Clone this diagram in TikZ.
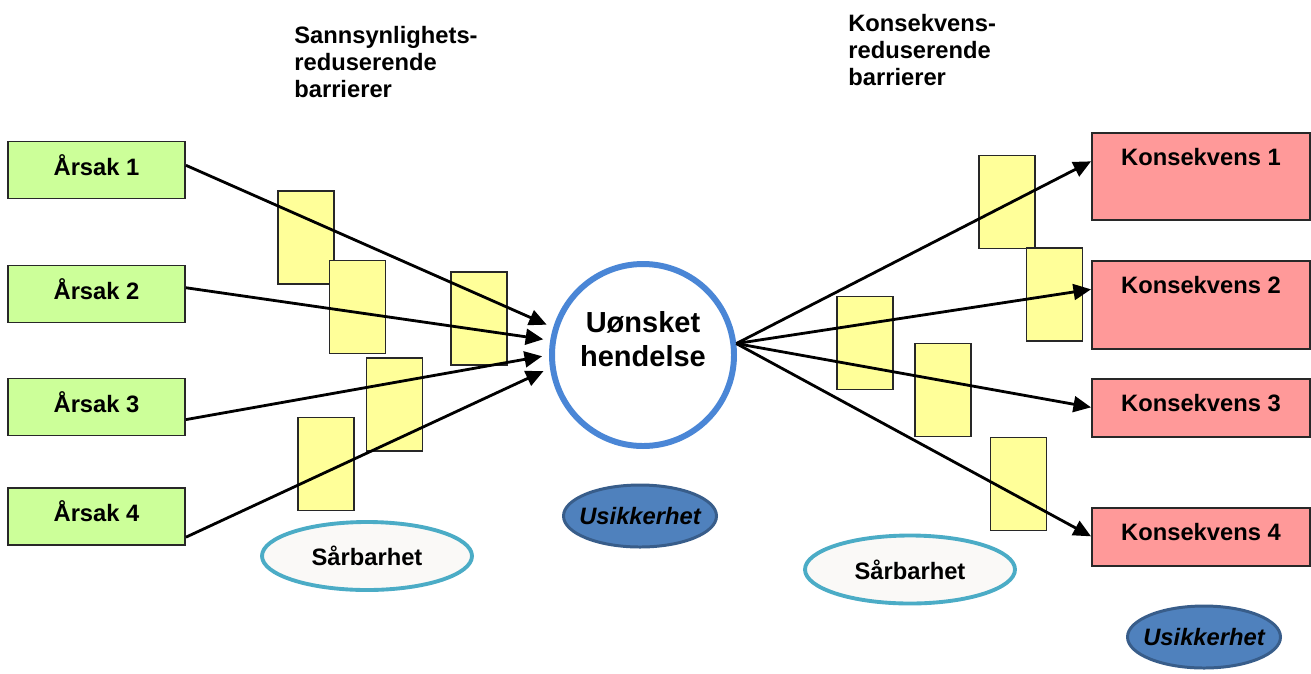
\documentclass[tikz,border=0pt]{standalone}
\usepackage{fontspec}
\setmainfont{Liberation Sans}
\usetikzlibrary{positioning, shapes.geometric, arrows.meta}

\definecolor{causegreen}{RGB}{204,255,153}
\definecolor{conspink}{RGB}{255,153,153}
\definecolor{barrieryellow}{RGB}{255,255,153}
\definecolor{eventblue}{RGB}{74,134,214}
\definecolor{uncfill}{RGB}{79,129,189}
\definecolor{uncdraw}{RGB}{56,93,138}
\definecolor{vulndraw}{RGB}{75,172,198}
\definecolor{vulnfill}{RGB}{250,249,247}
\definecolor{edgegray}{RGB}{40,40,40}

\tikzset{
  every node/.style={font=\fontsize{13.5}{15.3}\selectfont\bfseries},
  cause/.style={draw=edgegray, line width=1.1pt, fill=causegreen, inner sep=0pt,
    minimum width=3.54cm, minimum height=1.14cm, text height=0.3cm, text depth=0.1cm},
  consequence/.style={draw=edgegray, line width=1.1pt, fill=conspink, inner sep=0pt,
    minimum width=4.36cm, text height=0.66cm, text depth=0.5cm, anchor=north},
  barrier/.style={draw=edgegray, line width=1.1pt, fill=barrieryellow, inner sep=0pt,
    minimum width=1.12cm, minimum height=1.86cm},
  vuln/.style={ellipse, draw=vulndraw, line width=2.2pt, fill=vulnfill, inner sep=0pt,
    minimum width=4.2cm, minimum height=1.36cm},
  uncert/.style={ellipse, draw=uncdraw, line width=1.7pt, fill=uncfill, inner ysep=0pt,
    inner xsep=-0.2cm, minimum width=3.06cm, minimum height=1.24cm,
    font=\fontsize{13.5}{15.3}\selectfont\bfseries\itshape},
  heading/.style={align=left, inner sep=0pt, anchor=north west},
  link/.style={line width=1.6pt},
  arrowlink/.style={link, -{Triangle[length=10pt,width=9pt]}},
}

\begin{document}
\begin{tikzpicture}[x=0.2mm, y=-0.2mm]
  \useasboundingbox (0,0) rectangle (1311,673);
  \fill[white] (0,0) rectangle (1311,673);

  % headings
  \node[heading] (probhead) at (294,26) {Sannsynlighets-\\reduserende\\barrierer};
  \node[heading] (conshead) at (848,14) {Konsekvens-\\reduserende\\barrierer};

  % causes and consequences
  \node[cause] (cause1) at (96.5,170) {Årsak 1};
  \node[cause] (cause2) at (96.5,294) {Årsak 2};
  \node[cause] (cause3) at (96.5,407) {Årsak 3};
  \node[cause] (cause4) at (96.5,516.5) {Årsak 4};
  \node[consequence, text depth=1.08cm] (cons1) at (1201,132) {Konsekvens 1};
  \node[consequence, text depth=1.1cm] (cons2) at (1201,260) {Konsekvens 2};
  \node[consequence] (cons3) at (1201,378) {Konsekvens 3};
  \node[consequence] (cons4) at (1201,507) {Konsekvens 4};

  % barriers
  \node[barrier] (pbar1) at (306,237.5) {};
  \node[barrier] (pbar2) at (357.5,307) {};
  \node[barrier] (pbar3) at (479,318.5) {};
  \node[barrier] (pbar4) at (394.5,404.5) {};
  \node[barrier] (pbar5) at (326,464) {};
  \node[barrier] (cbar1) at (1007,202) {};
  \node[barrier] (cbar2) at (1054.5,294.5) {};
  \node[barrier] (cbar3) at (865,343) {};
  \node[barrier] (cbar4) at (943,390) {};
  \node[barrier] (cbar5) at (1018.5,484) {};

  % event
  \node[circle, draw=eventblue, line width=3.4pt, fill=white, inner sep=0pt,
    minimum size=3.64cm, align=center, text depth=0.64cm,
    font=\fontsize{16.5}{19.8}\selectfont\bfseries] (event) at (643,355) {Uønsket\\hendelse};

  % vulnerability and uncertainty
  \node[vuln] (vulnL) at (367,556) {Sårbarhet};
  \node[vuln] (vulnR) at (910,569.5) {Sårbarhet};
  \node[uncert] (uncL) at (640,516) {Usikkerhet};
  \node[uncert] (uncR) at (1204,637) {Usikkerhet};

  % connectors
  \draw[arrowlink, shorten >=4pt] (cause1.3) -- (event.163);
  \draw[arrowlink, shorten >=4pt] (cause2.4) -- (event.171);
  \draw[arrowlink, shorten >=4pt] (cause3.-8) -- (event.180);
  \draw[arrowlink, shorten >=4pt] (cause4.-13) -- (event.188);
  \draw[arrowlink] (event.7) -- (cons1.mid west);
  \draw[arrowlink] (event.7) -- (cons2.mid west);
  \draw[arrowlink] (event.7) -- (cons3.mid west);
  \draw[arrowlink] (event.7) -- (cons4.mid west);
\end{tikzpicture}
\end{document}
